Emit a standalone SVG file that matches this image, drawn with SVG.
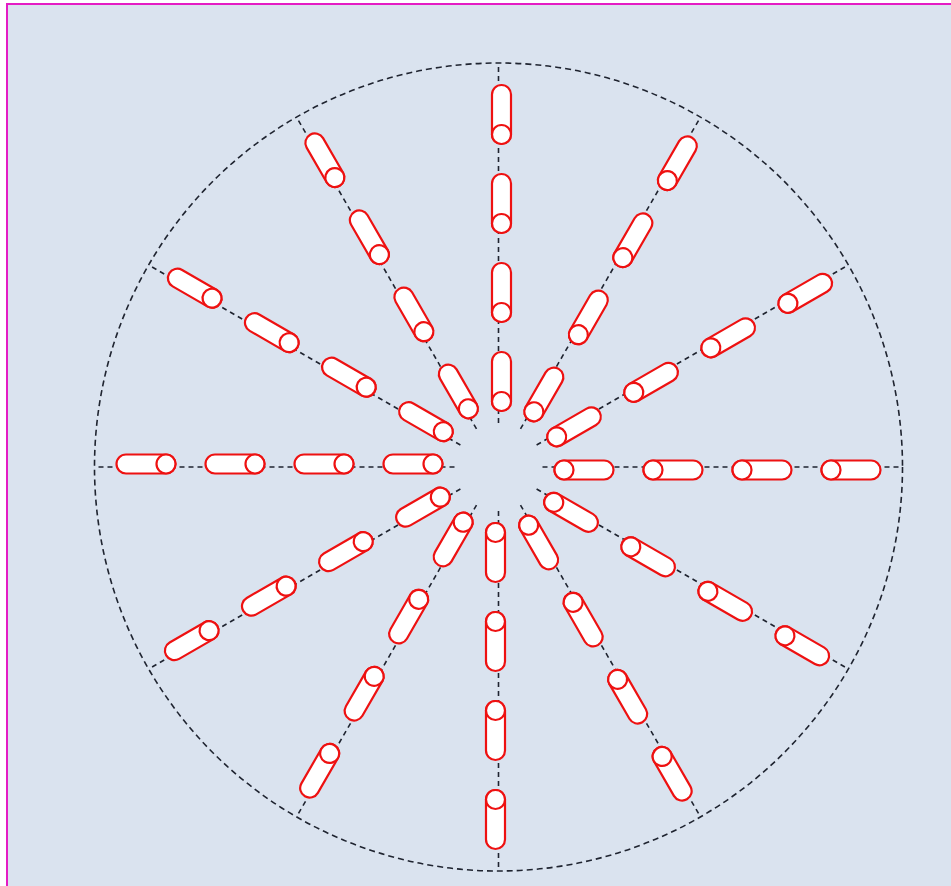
<svg xmlns="http://www.w3.org/2000/svg" xmlns:xlink="http://www.w3.org/1999/xlink" width="951" height="886" viewBox="0 0 951 886">
<style>
.bg{fill:#dae3ef;stroke:#e41cc4;stroke-width:2}
.ring{fill:none;stroke:#1f2430;stroke-width:1.6;stroke-dasharray:6 4}
.spoke{stroke:#1f2430;stroke-width:1.6;stroke-dasharray:5 4}
.cap rect,.cap circle{fill:#ffffff;stroke:#ee1111;stroke-width:2.2}
</style>
<defs>
<g id="cap" class="cap"><rect x="1" y="-6.5" width="59" height="19" rx="9.5"/><circle cx="10.5" cy="3" r="9.5"/></g>
</defs>
<rect x="0" y="0" width="951" height="886" fill="#ffffff"/>
<rect class="bg" x="7" y="4" width="960" height="900"/>
<circle class="ring" cx="498.5" cy="467" r="404"/>
<g id="connectors">
<line class="spoke" x1="542.5" y1="467" x2="902.5" y2="467" transform="rotate(0 498.5 467)"/>
<line class="spoke" x1="542.5" y1="467" x2="902.5" y2="467" transform="rotate(30 498.5 467)"/>
<line class="spoke" x1="542.5" y1="467" x2="902.5" y2="467" transform="rotate(60 498.5 467)"/>
<line class="spoke" x1="542.5" y1="467" x2="902.5" y2="467" transform="rotate(90 498.5 467)"/>
<line class="spoke" x1="542.5" y1="467" x2="902.5" y2="467" transform="rotate(120 498.5 467)"/>
<line class="spoke" x1="542.5" y1="467" x2="902.5" y2="467" transform="rotate(150 498.5 467)"/>
<line class="spoke" x1="542.5" y1="467" x2="902.5" y2="467" transform="rotate(180 498.5 467)"/>
<line class="spoke" x1="542.5" y1="467" x2="902.5" y2="467" transform="rotate(210 498.5 467)"/>
<line class="spoke" x1="542.5" y1="467" x2="902.5" y2="467" transform="rotate(240 498.5 467)"/>
<line class="spoke" x1="542.5" y1="467" x2="902.5" y2="467" transform="rotate(270 498.5 467)"/>
<line class="spoke" x1="542.5" y1="467" x2="902.5" y2="467" transform="rotate(300 498.5 467)"/>
<line class="spoke" x1="542.5" y1="467" x2="902.5" y2="467" transform="rotate(330 498.5 467)"/>
</g>
<g id="spoke-0" transform="rotate(0 498.5 467)"><use xlink:href="#cap" x="553.5" y="467"/><use xlink:href="#cap" x="642.5" y="467"/><use xlink:href="#cap" x="731.5" y="467"/><use xlink:href="#cap" x="820.5" y="467"/></g>
<g id="spoke-30" transform="rotate(30 498.5 467)"><use xlink:href="#cap" x="553.5" y="467"/><use xlink:href="#cap" x="642.5" y="467"/><use xlink:href="#cap" x="731.5" y="467"/><use xlink:href="#cap" x="820.5" y="467"/></g>
<g id="spoke-60" transform="rotate(60 498.5 467)"><use xlink:href="#cap" x="553.5" y="467"/><use xlink:href="#cap" x="642.5" y="467"/><use xlink:href="#cap" x="731.5" y="467"/><use xlink:href="#cap" x="820.5" y="467"/></g>
<g id="spoke-90" transform="rotate(90 498.5 467)"><use xlink:href="#cap" x="553.5" y="467"/><use xlink:href="#cap" x="642.5" y="467"/><use xlink:href="#cap" x="731.5" y="467"/><use xlink:href="#cap" x="820.5" y="467"/></g>
<g id="spoke-120" transform="rotate(120 498.5 467)"><use xlink:href="#cap" x="553.5" y="467"/><use xlink:href="#cap" x="642.5" y="467"/><use xlink:href="#cap" x="731.5" y="467"/><use xlink:href="#cap" x="820.5" y="467"/></g>
<g id="spoke-150" transform="rotate(150 498.5 467)"><use xlink:href="#cap" x="553.5" y="467"/><use xlink:href="#cap" x="642.5" y="467"/><use xlink:href="#cap" x="731.5" y="467"/><use xlink:href="#cap" x="820.5" y="467"/></g>
<g id="spoke-180" transform="rotate(180 498.5 467)"><use xlink:href="#cap" x="553.5" y="467"/><use xlink:href="#cap" x="642.5" y="467"/><use xlink:href="#cap" x="731.5" y="467"/><use xlink:href="#cap" x="820.5" y="467"/></g>
<g id="spoke-210" transform="rotate(210 498.5 467)"><use xlink:href="#cap" x="553.5" y="467"/><use xlink:href="#cap" x="642.5" y="467"/><use xlink:href="#cap" x="731.5" y="467"/><use xlink:href="#cap" x="820.5" y="467"/></g>
<g id="spoke-240" transform="rotate(240 498.5 467)"><use xlink:href="#cap" x="553.5" y="467"/><use xlink:href="#cap" x="642.5" y="467"/><use xlink:href="#cap" x="731.5" y="467"/><use xlink:href="#cap" x="820.5" y="467"/></g>
<g id="spoke-270" transform="rotate(270 498.5 467)"><use xlink:href="#cap" x="553.5" y="467"/><use xlink:href="#cap" x="642.5" y="467"/><use xlink:href="#cap" x="731.5" y="467"/><use xlink:href="#cap" x="820.5" y="467"/></g>
<g id="spoke-300" transform="rotate(300 498.5 467)"><use xlink:href="#cap" x="553.5" y="467"/><use xlink:href="#cap" x="642.5" y="467"/><use xlink:href="#cap" x="731.5" y="467"/><use xlink:href="#cap" x="820.5" y="467"/></g>
<g id="spoke-330" transform="rotate(330 498.5 467)"><use xlink:href="#cap" x="553.5" y="467"/><use xlink:href="#cap" x="642.5" y="467"/><use xlink:href="#cap" x="731.5" y="467"/><use xlink:href="#cap" x="820.5" y="467"/></g>
</svg>
